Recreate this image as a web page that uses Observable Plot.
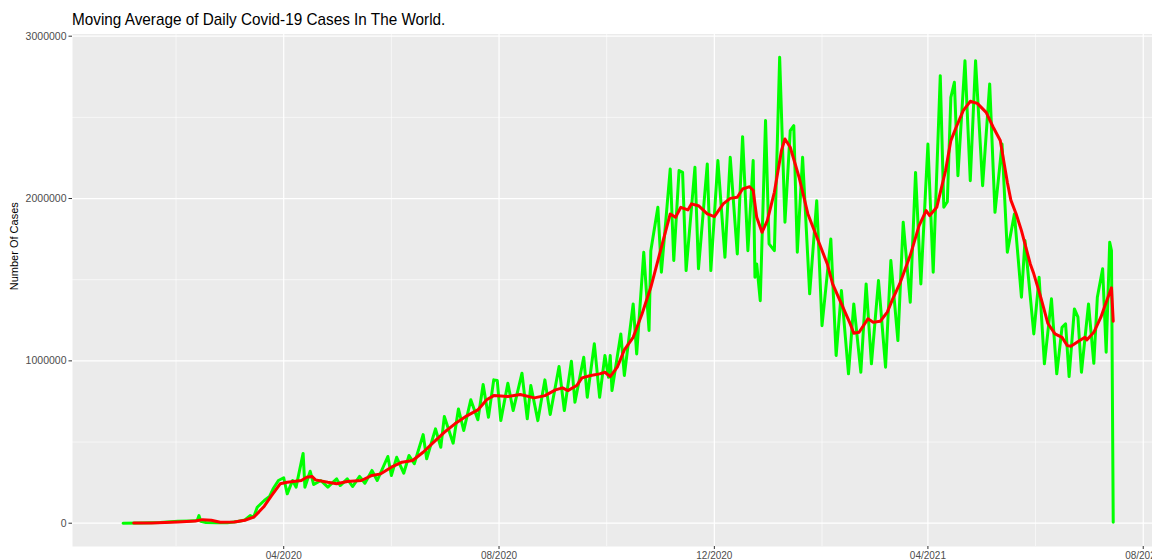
<!DOCTYPE html>
<html><head><meta charset="utf-8">
<script src="https://cdn.jsdelivr.net/npm/d3@7"></script>
<script src="https://cdn.jsdelivr.net/npm/@observablehq/plot@0.6"></script>
<style>
html,body{margin:0;padding:0;background:#fff;overflow:hidden}
body{font-family:"Liberation Sans",Arial,Helvetica,sans-serif}
#title{height:30px;box-sizing:border-box;padding-top:10px;padding-left:72px;line-height:19px;white-space:nowrap}
#title span{display:inline-block;font-size:17px;color:#000;transform:scaleX(0.9);transform-origin:0 50%}
#chart svg{display:block}
</style></head><body>
<div id="title"><span>Moving Average of Daily Covid-19 Cases In The World.</span></div>
<div id="chart"></div>
<script>
// Daily cases (green): peaks and troughs
const dailyDates = [
"2020-01-01","2020-01-11","2020-01-22","2020-02-01","2020-02-08","2020-02-12","2020-02-13","2020-02-14","2020-02-17","2020-02-23",
"2020-02-29","2020-03-06","2020-03-10","2020-03-13","2020-03-15","2020-03-17","2020-03-21","2020-03-24","2020-03-26","2020-03-29",
"2020-04-01","2020-04-03","2020-04-06","2020-04-08","2020-04-12","2020-04-13","2020-04-16","2020-04-18","2020-04-22","2020-04-26",
"2020-05-01","2020-05-03","2020-05-07","2020-05-10","2020-05-14","2020-05-17","2020-05-21","2020-05-24","2020-05-30","2020-06-01",
"2020-06-04","2020-06-08","2020-06-11","2020-06-14","2020-06-19","2020-06-21","2020-06-26","2020-06-29","2020-07-01","2020-07-06",
"2020-07-09","2020-07-12","2020-07-16","2020-07-20","2020-07-23","2020-07-26","2020-07-29","2020-07-31","2020-08-02","2020-08-06",
"2020-08-09","2020-08-14","2020-08-17","2020-08-19","2020-08-23","2020-08-27","2020-08-30","2020-09-04","2020-09-07","2020-09-11",
"2020-09-13","2020-09-18","2020-09-20","2020-09-24","2020-09-27","2020-09-30","2020-10-02","2020-10-03","2020-10-04","2020-10-09",
"2020-10-11","2020-10-16","2020-10-18","2020-10-22","2020-10-25","2020-10-26","2020-10-30","2020-11-01","2020-11-06","2020-11-08",
"2020-11-11","2020-11-13","2020-11-15","2020-11-20","2020-11-22","2020-11-27","2020-11-29","2020-12-03","2020-12-07","2020-12-10",
"2020-12-14","2020-12-17","2020-12-20","2020-12-23","2020-12-24","2020-12-25","2020-12-27","2020-12-30","2021-01-01","2021-01-04",
"2021-01-07","2021-01-10","2021-01-13","2021-01-15","2021-01-17","2021-01-20","2021-01-24","2021-01-28","2021-01-31","2021-02-05",
"2021-02-08","2021-02-11","2021-02-15","2021-02-18","2021-02-22","2021-02-25","2021-02-28","2021-03-04","2021-03-08","2021-03-11",
"2021-03-15","2021-03-18","2021-03-22","2021-03-25","2021-03-28","2021-04-01","2021-04-04","2021-04-08","2021-04-10","2021-04-12",
"2021-04-14","2021-04-16","2021-04-18","2021-04-22","2021-04-25","2021-04-28","2021-05-02","2021-05-06","2021-05-09","2021-05-13",
"2021-05-16","2021-05-20","2021-05-24","2021-05-26","2021-05-31","2021-06-03","2021-06-06","2021-06-10","2021-06-13","2021-06-16",
"2021-06-18","2021-06-20","2021-06-23","2021-06-25","2021-06-27","2021-07-01","2021-07-04","2021-07-06","2021-07-09","2021-07-11",
"2021-07-13","2021-07-14","2021-07-15"
];
const dailyCases = [
0,2000,5000,12000,14000,16000,47000,12000,4000,3000,
3000,10000,20000,47000,38000,98000,140000,165000,212000,263000,
280000,181000,263000,222000,430000,222000,320000,238000,263000,222000,
273000,232000,273000,226000,288000,246000,325000,263000,411000,294000,
406000,308000,417000,366000,546000,397000,581000,468000,657000,493000,
704000,571000,760000,637000,854000,653000,883000,879000,632000,862000,
694000,924000,643000,848000,632000,883000,669000,965000,694000,998000,
745000,1022000,776000,1105000,776000,1033000,899000,1033000,817000,1166000,
910000,1351000,1043000,1669000,1187000,1679000,1946000,1546000,2182000,1618000,
2172000,2161000,1556000,2192000,1567000,2213000,1556000,2234000,1638000,2254000,
1659000,2381000,1679000,2234000,1515000,1597000,1371000,2480000,1721000,1679000,
2870000,1854000,2418000,2449000,1669000,2254000,1413000,1987000,1217000,1751000,
1033000,1433000,920000,1351000,930000,1474000,982000,1495000,961000,1618000,
1125000,1854000,1361000,2161000,1474000,2336000,1546000,2757000,1946000,1980000,
2623000,2716000,2141000,2849000,2110000,2849000,2079000,2706000,1915000,2336000,
1669000,1905000,1392000,1741000,1166000,1515000,982000,1382000,920000,1207000,
1228000,903000,1320000,1269000,930000,1351000,985000,1392000,1567000,1053000,
1731000,1679000,6000
];
// 7-day moving average (red)
const avgDates = [
"2020-01-07","2020-01-17","2020-02-01","2020-02-11","2020-02-15","2020-02-20","2020-02-25","2020-03-04","2020-03-10","2020-03-15",
"2020-03-18","2020-03-21","2020-03-25","2020-03-30","2020-04-03","2020-04-11","2020-04-14","2020-04-17","2020-04-19","2020-04-26",
"2020-05-01","2020-05-07","2020-05-15","2020-05-21","2020-05-26","2020-06-01","2020-06-07","2020-06-13","2020-06-19","2020-06-25",
"2020-07-01","2020-07-07","2020-07-14","2020-07-20","2020-07-25","2020-07-29","2020-08-06","2020-08-13","2020-08-21","2020-08-27",
"2020-09-02","2020-09-06","2020-09-09","2020-09-14","2020-09-17","2020-09-22","2020-09-27","2020-09-30","2020-10-03","2020-10-07",
"2020-10-11","2020-10-16","2020-10-21","2020-10-26","2020-10-30","2020-11-03","2020-11-06","2020-11-09","2020-11-12","2020-11-16",
"2020-11-18","2020-11-22","2020-11-27","2020-12-01","2020-12-06","2020-12-10","2020-12-14","2020-12-17","2020-12-21","2020-12-23",
"2020-12-25","2020-12-28","2020-12-31","2021-01-04","2021-01-08","2021-01-10","2021-01-13","2021-01-18","2021-01-23","2021-01-27",
"2021-02-03","2021-02-06","2021-02-11","2021-02-16","2021-02-18","2021-02-21","2021-02-26","2021-03-01","2021-03-05","2021-03-09",
"2021-03-12","2021-03-16","2021-03-22","2021-03-27","2021-03-31","2021-04-02","2021-04-06","2021-04-11","2021-04-14","2021-04-17",
"2021-04-21","2021-04-25","2021-04-29","2021-05-04","2021-05-08","2021-05-12","2021-05-16","2021-05-18","2021-05-21","2021-05-24",
"2021-05-29","2021-05-31","2021-06-04","2021-06-08","2021-06-12","2021-06-16","2021-06-19","2021-06-21","2021-06-26","2021-06-29",
"2021-06-30","2021-07-04","2021-07-08","2021-07-10","2021-07-14","2021-07-15"
];
const avgCases = [
1000,2000,8000,14000,22000,18000,6000,7000,18000,37000,
70000,105000,168000,243000,252000,263000,283000,288000,267000,252000,
243000,257000,263000,294000,304000,345000,376000,386000,437000,499000,
560000,612000,663000,698000,760000,786000,780000,793000,772000,786000,
821000,834000,817000,848000,895000,910000,920000,930000,903000,961000,
1068000,1145000,1289000,1453000,1618000,1782000,1905000,1884000,1946000,1930000,
1967000,1956000,1905000,1889000,1967000,2001000,2008000,2059000,2073000,2050000,
1884000,1792000,1864000,2038000,2295000,2367000,2316000,2131000,1905000,1792000,
1597000,1474000,1351000,1228000,1170000,1176000,1259000,1238000,1244000,1300000,
1380000,1474000,1650000,1833000,1926000,1895000,1946000,2172000,2357000,2439000,
2541000,2599000,2586000,2531000,2439000,2357000,2100000,1990000,1905000,1802000,
1597000,1536000,1390000,1230000,1166000,1145000,1094000,1090000,1125000,1145000,
1129000,1176000,1269000,1330000,1450000,1244000
];
const xTicks = ["2020-04-01","2020-08-01","2020-12-01","2021-04-01","2021-08-01"];
const xMinor = ["2020-01-31","2020-06-01","2020-10-01","2021-01-31","2021-06-01"];
const yTicks = [0, 1000000, 2000000, 3000000];
const yMinor = [500000, 1500000, 2500000];
const yTitle = "Number Of Cases";

const parse = s => new Date(s + "T00:00:00Z");
const daily = dailyDates.map((d, i) => ({date: parse(d), cases: dailyCases[i]}));
const avg = avgDates.map((d, i) => ({date: parse(d), cases: avgCases[i]}));
const xT = xTicks.map(parse), xM = xMinor.map(parse);

const chart = Plot.plot({
  width: 1152,
  height: 530,
  marginTop: 3.5,
  marginBottom: 14,
  marginLeft: 72,
  marginRight: 0,
  style: {fontFamily: "Liberation Sans, Arial, Helvetica, sans-serif", fontSize: "10px", background: "white", overflow: "visible"},
  x: {type: "utc", domain: [new Date("2019-12-03T08:00:00Z"), new Date("2021-08-06T06:00:00Z")]},
  y: {domain: [-143500, 3013500]},
  marks: [
    Plot.frame({fill: "#EBEBEB", stroke: null}),
    Plot.gridY(yMinor, {stroke: "white", strokeOpacity: 1, strokeWidth: 0.6}),
    Plot.gridX(xM, {stroke: "white", strokeOpacity: 1, strokeWidth: 0.6}),
    Plot.gridY(yTicks, {stroke: "white", strokeOpacity: 1, strokeWidth: 1.2}),
    Plot.gridX(xT, {stroke: "white", strokeOpacity: 1, strokeWidth: 1.2}),
    Plot.axisX(xT, {tickFormat: d3.utcFormat("%m/%Y"), tickSize: 3, tickPadding: 2, stroke: "#333", fill: "#4d4d4d", fontSize: 10, label: null}),
    Plot.axisY(yTicks, {tickFormat: d3.format("d"), tickSize: 3.5, tickPadding: 2.5, stroke: "#333", fill: "#4d4d4d", fontSize: 10.5, label: null}),
    Plot.text([yTitle], {frameAnchor: "left", dx: -58, rotate: -90, text: d => d, fontSize: 11, fill: "black"}),
    Plot.line(daily, {x: "date", y: "cases", stroke: "#00FF00", strokeWidth: 3}),
    Plot.line(avg, {x: "date", y: "cases", stroke: "#FF0000", strokeWidth: 3})
  ]
});
document.getElementById("chart").appendChild(chart);
</script>
</body></html>
